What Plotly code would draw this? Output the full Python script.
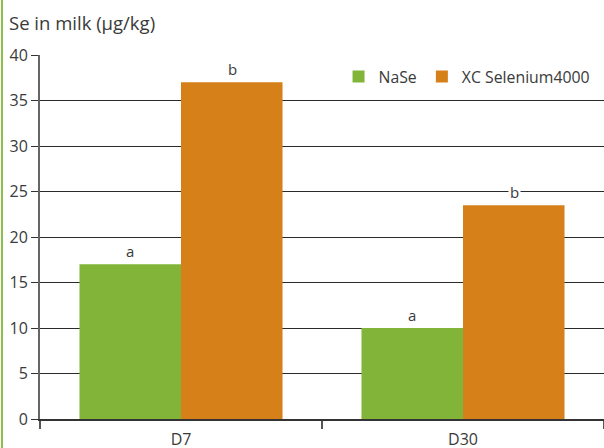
import plotly.graph_objects as go

categories = ["D7", "D30"]
nase = [17.0, 10.0]
xc = [37.0, 23.5]
nase_letters = ["a", "a"]
xc_letters = ["b", "b"]
y_ticks = [0, 5, 10, 15, 20, 25, 30, 35, 40]

GREEN = "#82B43A"
ORANGE = "#D58018"
TXT = "#3a3a3a"
FONT = "Open Sans"

fig = go.Figure()
fig.add_trace(go.Bar(name="NaSe", x=categories, y=nase, marker=dict(color=GREEN, line=dict(width=0))))
fig.add_trace(go.Bar(name="XC Selenium4000", x=categories, y=xc, marker=dict(color=ORANGE, line=dict(width=0))))

for i, c in enumerate(categories):
    fig.add_annotation(x=c, y=nase[i], text=nase_letters[i], xshift=-51, yshift=13, showarrow=False,
                       bgcolor="white", font=dict(size=15, color=TXT, family=FONT))
    fig.add_annotation(x=c, y=xc[i], text=xc_letters[i], xshift=51, yshift=13, showarrow=False,
                       bgcolor="white", font=dict(size=15, color=TXT, family=FONT))

fig.add_annotation(xref="paper", yref="paper", x=-0.058, y=1.0, yshift=33, xanchor="left", yanchor="middle",
                   text="Se in milk (µg/kg)", showarrow=False, font=dict(size=18.5, color=TXT, family=FONT))

fig.add_shape(type="line", xref="paper", yref="paper", x0=-0.0674, x1=-0.0674, y0=-0.2, y1=1.3,
              line=dict(color="#8CC04B", width=2))

fig.update_layout(
    width=604, height=448,
    margin=dict(l=40, r=0, t=55, b=29),
    paper_bgcolor="white", plot_bgcolor="white",
    barmode="group", bargap=0.28, bargroupgap=0,
    font=dict(family=FONT, color=TXT, size=15),
    showlegend=True,
    legend=dict(orientation="h", x=0.985, xanchor="right", y=0.94, yanchor="middle",
                font=dict(size=15.8, color=TXT, family=FONT), itemwidth=30, bgcolor="rgba(0,0,0,0)"),
    xaxis=dict(showline=True, linecolor="#333", linewidth=1.5, ticks="outside", tickson="boundaries",
               ticklen=8, tickcolor="#555", tickwidth=1.5, showgrid=False, ticklabelstandoff=5,
               automargin=False, tickfont=dict(size=16, color=TXT, family=FONT)),
    yaxis=dict(range=[0, 40], tickvals=y_ticks, showgrid=True, gridcolor="#2a2a2a", gridwidth=1,
               showline=True, linecolor="#666", linewidth=2, ticks="outside", ticklen=7,
               tickcolor="#333", tickwidth=1, zeroline=False, automargin=False,
               tickfont=dict(size=16, color=TXT, family=FONT)),
)

fig.write_html("out.html", config={"displayModeBar": False},
               post_script="document.body.style.margin='0';")
